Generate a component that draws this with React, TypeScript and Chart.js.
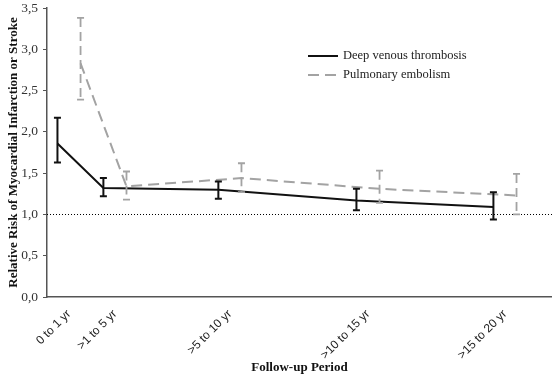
import React, { useEffect, useRef } from "react";
import { Chart, registerables } from "chart.js";

Chart.register(...registerables);

const categories = ["0 to 1 yr", ">1 to 5 yr", ">5 to 10 yr", ">10 to 15 yr", ">15 to 20 yr"];
const categoryPos = [0.8, 2.47, 6.65, 11.67, 16.65];
const seriesOffset = 0.42;

const dvtValues = [1.86, 1.32, 1.3, 1.17, 1.09];
const dvtLow = [1.63, 1.22, 1.19, 1.05, 0.94];
const dvtHigh = [2.17, 1.44, 1.4, 1.31, 1.27];

const peValues = [2.83, 1.34, 1.44, 1.31, 1.23];
const peLow = [2.39, 1.18, 1.27, 1.14, 1.0];
const peHigh = [3.38, 1.52, 1.62, 1.53, 1.49];

const yTicks = [0, 0.5, 1, 1.5, 2, 2.5, 3, 3.5];
const referenceValue = 1.0;

const SERIF = "'Liberation Serif', 'Times New Roman', serif";
const SANS = "'Liberation Sans', Arial, sans-serif";

const DVT_COLOR = "#111111";
const PE_COLOR = "#a3a3a3";
const PE_DASH = [11, 6];

const errorBarPlugin = {
  id: "errorBars",
  afterDatasetsDraw(chart: any) {
    const { ctx } = chart;
    const xs = chart.scales.x;
    const ys = chart.scales.y;
    const groups = [
      { offset: -seriesOffset, low: dvtLow, high: dvtHigh, color: DVT_COLOR, width: 2, dash: [] as number[] },
      { offset: seriesOffset, low: peLow, high: peHigh, color: PE_COLOR, width: 1.8, dash: [9, 5] },
    ];
    ctx.save();
    groups.forEach((g) => {
      categoryPos.forEach((p, i) => {
        const x = xs.getPixelForValue(p + g.offset);
        const yt = ys.getPixelForValue(g.high[i]);
        const yb = ys.getPixelForValue(g.low[i]);
        ctx.strokeStyle = g.color;
        ctx.lineWidth = g.width;
        ctx.setLineDash(g.dash);
        ctx.beginPath();
        ctx.moveTo(x, yt);
        ctx.lineTo(x, yb);
        ctx.stroke();
        ctx.setLineDash([]);
        ctx.beginPath();
        ctx.moveTo(x - 3.5, yt);
        ctx.lineTo(x + 3.5, yt);
        ctx.moveTo(x - 3.5, yb);
        ctx.lineTo(x + 3.5, yb);
        ctx.stroke();
      });
    });
    ctx.restore();
  },
};

const refLinePlugin = {
  id: "refLine",
  beforeDatasetsDraw(chart: any) {
    const { ctx, chartArea } = chart;
    const y = chart.scales.y.getPixelForValue(referenceValue);
    ctx.save();
    ctx.strokeStyle = "#000";
    ctx.lineWidth = 1;
    ctx.setLineDash([1, 2]);
    ctx.beginPath();
    ctx.moveTo(chartArea.left, Math.round(y) + 0.5);
    ctx.lineTo(chartArea.right, Math.round(y) + 0.5);
    ctx.stroke();
    ctx.restore();
  },
};

const legendPlugin = {
  id: "customLegend",
  afterDraw(chart: any) {
    const { ctx } = chart;
    const x0 = 308;
    const rows = [56, 75];
    ctx.save();
    ctx.font = `12.5px ${SERIF}`;
    ctx.textBaseline = "middle";
    chart.data.datasets.forEach((ds: any, i: number) => {
      const y = rows[i];
      ctx.strokeStyle = ds.borderColor;
      ctx.lineWidth = 2;
      ctx.setLineDash(ds.borderDash || []);
      ctx.beginPath();
      ctx.moveTo(x0, y);
      ctx.lineTo(x0 + 30, y);
      ctx.stroke();
      ctx.setLineDash([]);
      ctx.fillStyle = "#222";
      ctx.fillText(ds.label, x0 + 35, y);
    });
    ctx.restore();
  },
};

export default function App() {
  const ref = useRef<HTMLCanvasElement | null>(null);

  useEffect(() => {
    if (!ref.current) return;
    const chart = new Chart(ref.current, {
      type: "line",
      data: {
        datasets: [
          {
            label: "Deep venous thrombosis",
            data: categoryPos.map((p, i) => ({ x: p - seriesOffset, y: dvtValues[i] })),
            borderColor: DVT_COLOR,
            borderWidth: 2,
            pointRadius: 0,
            tension: 0,
            fill: false,
          },
          {
            label: "Pulmonary embolism",
            data: categoryPos.map((p, i) => ({ x: p + seriesOffset, y: peValues[i] })),
            borderColor: PE_COLOR,
            borderWidth: 2,
            borderDash: PE_DASH,
            pointRadius: 0,
            tension: 0,
            fill: false,
          },
        ],
      },
      options: {
        responsive: false,
        animation: false,
        layout: { padding: { top: 0, right: 0, left: 0, bottom: 0 } },
        plugins: {
          legend: { display: false },
          tooltip: { enabled: false },
        },
        scales: {
          x: {
            type: "linear",
            min: 0,
            max: 18.36,
            afterBuildTicks: (scale: any) => {
              scale.ticks = categoryPos.map((v) => ({ value: v }));
            },
            afterFit: (scale: any) => {
              scale.height = 83;
            },
            ticks: {
              autoSkip: false,
              maxRotation: 45,
              minRotation: 45,
              padding: 2,
              color: "#222",
              font: { family: SANS, size: 12 },
              callback: (v: any) => {
                const idx = categoryPos.indexOf(Number(v));
                return idx >= 0 ? categories[idx] : "";
              },
            },
            grid: { display: false },
            border: { display: true, color: "#555", width: 1.5 },
            title: {
              display: true,
              text: "Follow-up Period",
              color: "#111",
              font: { family: SERIF, size: 13, weight: "bold" },
              padding: { top: 0, bottom: 5 },
            },
          },
          y: {
            min: 0,
            max: 3.5,
            afterBuildTicks: (scale: any) => {
              scale.ticks = yTicks.map((v) => ({ value: v }));
            },
            afterFit: (scale: any) => {
              scale.width = 47;
              scale.paddingTop = 8;
              scale.paddingBottom = 0;
            },
            ticks: {
              color: "#333",
              padding: 5,
              font: { family: SERIF, size: 13.5 },
              callback: (v: any) => Number(v).toFixed(1).replace(".", ","),
            },
            grid: {
              display: true,
              drawOnChartArea: false,
              drawTicks: true,
              tickLength: 4,
              color: "#555",
            },
            border: { display: true, color: "#555", width: 1.5 },
            title: {
              display: true,
              text: "Relative Risk of Myocardial Infarction or Stroke",
              color: "#111",
              font: { family: SERIF, size: 13, weight: "bold" },
              padding: { top: 6, bottom: 0 },
            },
          },
        },
      },
      plugins: [refLinePlugin, errorBarPlugin, legendPlugin],
    } as any);
    return () => chart.destroy();
  }, []);

  return (
    <div style={{ position: "fixed", left: 0, top: 0, width: 552, height: 380, background: "#fff" }}>
      <canvas ref={ref} width={552} height={380} />
    </div>
  );
}
